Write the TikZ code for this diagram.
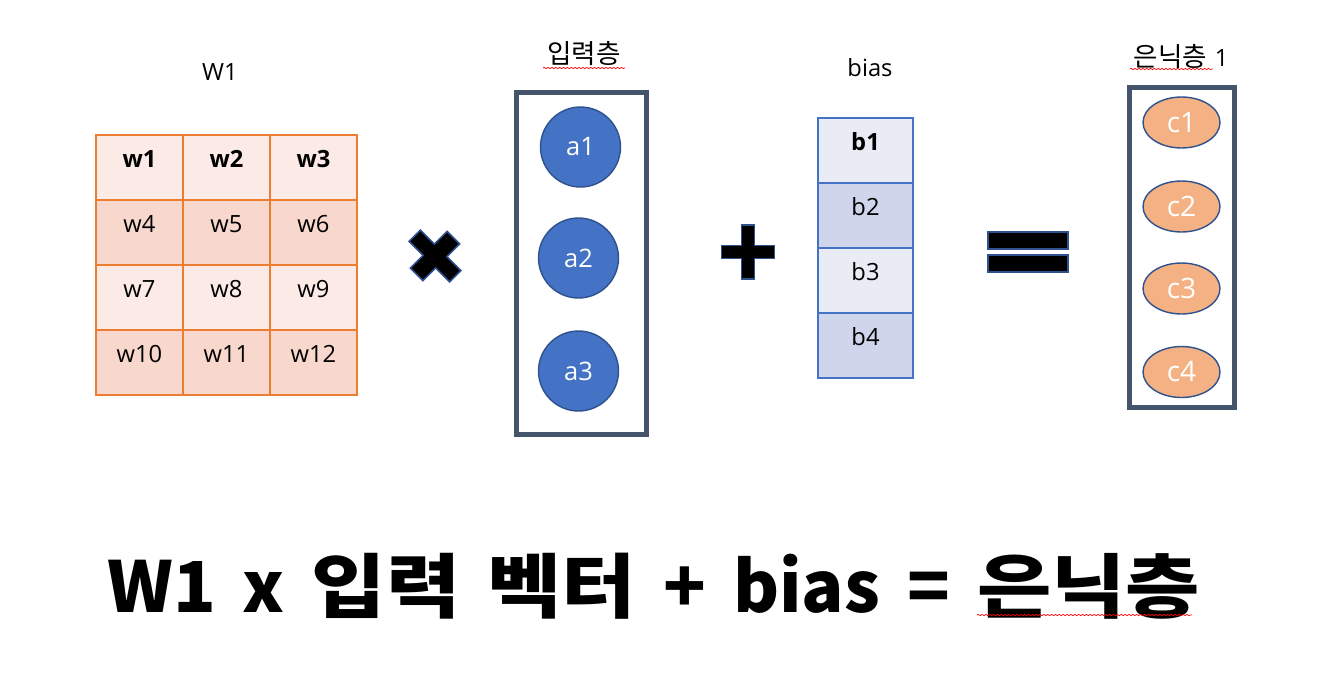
\documentclass[tikz,border=0pt]{standalone}
\usepackage{fontspec}
\setmainfont{Open Sans}
\newfontfamily\krfont[Scale=1.12]{Noto Sans CJK KR}
\newfontfamily\krhead{Noto Sans CJK KR}
\usetikzlibrary{shapes.geometric,decorations.pathmorphing}
\definecolor{CellEdge}{HTML}{ED7D31}
\definecolor{CellLight}{HTML}{FBEAE5}
\definecolor{CellDark}{HTML}{F8D7CC}
\definecolor{BiasEdge}{HTML}{4472C4}
\definecolor{BiasLight}{HTML}{E9EBF5}
\definecolor{BiasDark}{HTML}{CFD5EA}
\definecolor{LayerFrame}{HTML}{44546A}
\definecolor{UnitBlue}{HTML}{4472C4}
\definecolor{UnitEdge}{HTML}{2F528F}
\definecolor{UnitOrange}{HTML}{F4B183}
\definecolor{SpellRed}{HTML}{FF0000}
\newcommand\widekr[1]{\scalebox{1.15}[1]{#1}}
\newcommand\gap{\hspace{5.4mm}}
\tikzset{
  wcell/.style={draw=CellEdge, line width=.9pt, minimum width=17.4mm, minimum height=13mm, inner sep=0pt, text height=9pt, text depth=9pt},
  bcell/.style={draw=BiasEdge, line width=.7pt, minimum width=19mm, minimum height=13mm, inner sep=0pt, text height=9pt, text depth=9pt},
  layerframe/.style={draw=LayerFrame, line width=2.85pt, inner sep=0pt},
  inunit/.style={circle, draw=UnitEdge, line width=.8pt, fill=UnitBlue, text=white, minimum size=16mm, inner sep=0pt, font=\fontsize{14.5}{17}\selectfont},
  hidunit/.style={ellipse, draw=UnitEdge, line width=.8pt, fill=UnitOrange, text=white, minimum width=15.4mm, minimum height=10.2mm, inner sep=0pt, font=\fontsize{16}{19}\selectfont},
  opsign/.style={fill=black, draw=UnitEdge, line width=.9pt},
  spell/.style={draw=SpellRed, line width=.4pt, decorate, decoration={snake, amplitude=.35pt, segment length=2.2pt}},
}

\begin{document}
\begin{tikzpicture}[x=0.02cm, y=-0.02cm, font=\fontsize{13.5}{16}\selectfont]
  \useasboundingbox (0,0) rectangle (1321,684);
  \node (wlabel) at (220,72) {W1};
  \foreach \row/\shade in {0/CellLight,1/CellDark,2/CellLight,3/CellDark}
    \foreach \col in {0,1,2} {
      \pgfmathtruncatemacro\k{3*\row+\col+1}
      \node[wcell, fill=\shade] (w\k) at ({139.5+87*\col},{167.5+65*\row}) {\ifnum\row=0 \bfseries\fi w\k};
    }
  \begin{scope}[shift={(435,256)}, rotate=45, yscale=1.1]
    \draw[opsign] (-8,-26) -- (8,-26) -- (8,-8) -- (26,-8) -- (26,8) -- (8,8) -- (8,26) -- (-8,26) -- (-8,8) -- (-26,8) -- (-26,-8) -- (-8,-8) -- cycle;
  \end{scope}
  \node (inlabel) at (584,54) {\krfont 입력층};
  \draw[spell] (543,68) -- (625,68);
  \node[layerframe, minimum width=26mm, minimum height=68.4mm] (inlayer) at (581.5,263.5) {};
  \node[inunit] (a1) at (580.5,147) {a1};
  \node[inunit] (a2) at (578.5,258) {a2};
  \node[inunit] (a3) at (578.5,371) {a3};
  \begin{scope}[shift={(748,252)}]
    \draw[opsign] (-6.5,-27) -- (6.5,-27) -- (6.5,-6.5) -- (26.5,-6.5) -- (26.5,6.5) -- (6.5,6.5) -- (6.5,27) -- (-6.5,27) -- (-6.5,6.5) -- (-26.5,6.5) -- (-26.5,-6.5) -- (-6.5,-6.5) -- cycle;
  \end{scope}
  \node (blabel) at (870,68) {bias};
  \foreach \j/\shade in {1/BiasLight,2/BiasDark,3/BiasLight,4/BiasDark}
    \node[bcell, fill=\shade] (b\j) at (865.5,{85.5+65*\j}) {\ifnum\j=1 \bfseries\fi b\j};
  \draw[opsign] (988,232) rectangle (1068,249);
  \draw[opsign] (988,255) rectangle (1068,272);
  \node (hidlabel) at (1181,57) {{\krfont 은닉층}\hspace{1.6mm}1};
  \draw[spell] (1130,69) -- (1213,69);
  \node[layerframe, minimum width=21mm, minimum height=64mm] (hidlayer) at (1182,247.5) {};
  \node[hidunit] (c1) at (1181.5,122.5) {c1};
  \node[hidunit] (c2) at (1181.5,206.5) {c2};
  \node[hidunit] (c3) at (1181.5,288.5) {c3};
  \node[hidunit] (c4) at (1181.5,372) {c4};
  \node[anchor=base west, inner sep=0pt, font=\krhead\bfseries\fontsize{40}{48}\selectfont] (formula) at (107,612)
    {W1\gap x\gap\widekr{입력}\gap\widekr{벡터}\gap+\gap bias\gap=\gap\widekr{은닉층}};
  \draw[spell] (977,615) -- (1192,615);
\end{tikzpicture}
\end{document}
